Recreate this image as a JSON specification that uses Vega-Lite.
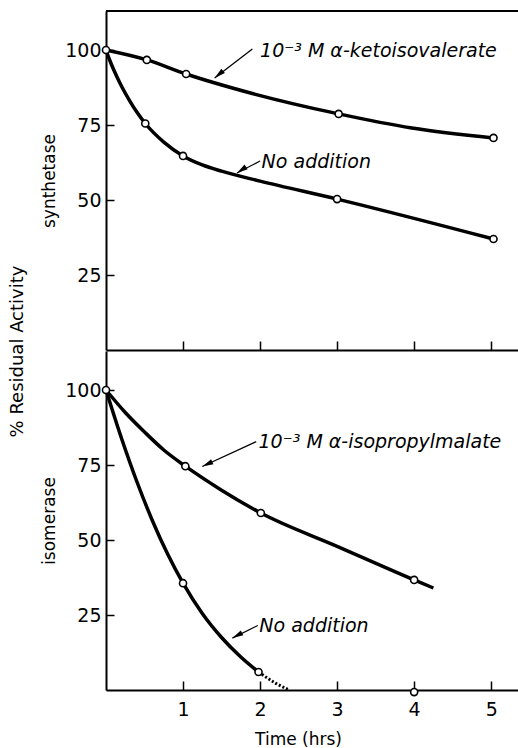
{
  "$schema": "https://vega.github.io/schema/vega-lite/v6.json",
  "padding": {"left": 8, "top": 10, "right": 0, "bottom": 0},
  "background": "white",
  "datasets": {
    "curves": [
      {"panel": "syn", "series": "keto", "t": 0, "v": 100},
      {"panel": "syn", "series": "keto", "t": 0.53, "v": 96.7},
      {"panel": "syn", "series": "keto", "t": 1.04, "v": 92},
      {"panel": "syn", "series": "keto", "t": 1.9, "v": 85.5},
      {"panel": "syn", "series": "keto", "t": 3.02, "v": 78.7},
      {"panel": "syn", "series": "keto", "t": 3.97, "v": 74},
      {"panel": "syn", "series": "keto", "t": 5.03, "v": 70.7},
      {"panel": "syn", "series": "none", "t": 0, "v": 100},
      {"panel": "syn", "series": "none", "t": 0.05, "v": 96.5},
      {"panel": "syn", "series": "none", "t": 0.1, "v": 93.4},
      {"panel": "syn", "series": "none", "t": 0.2, "v": 88.0},
      {"panel": "syn", "series": "none", "t": 0.3, "v": 83.4},
      {"panel": "syn", "series": "none", "t": 0.4, "v": 79.3},
      {"panel": "syn", "series": "none", "t": 0.51, "v": 75.5},
      {"panel": "syn", "series": "none", "t": 0.75, "v": 69.3},
      {"panel": "syn", "series": "none", "t": 1.0, "v": 64.7},
      {"panel": "syn", "series": "none", "t": 1.25, "v": 61.7},
      {"panel": "syn", "series": "none", "t": 1.5, "v": 59.6},
      {"panel": "syn", "series": "none", "t": 2.0, "v": 56.3},
      {"panel": "syn", "series": "none", "t": 3.0, "v": 50.3},
      {"panel": "syn", "series": "none", "t": 5.03, "v": 37},
      {"panel": "iso", "series": "ipm", "t": 0, "v": 100},
      {"panel": "iso", "series": "ipm", "t": 0.25, "v": 92.5},
      {"panel": "iso", "series": "ipm", "t": 0.5, "v": 86.0},
      {"panel": "iso", "series": "ipm", "t": 0.75, "v": 80.0},
      {"panel": "iso", "series": "ipm", "t": 1.03, "v": 74.6},
      {"panel": "iso", "series": "ipm", "t": 1.5, "v": 66.6},
      {"panel": "iso", "series": "ipm", "t": 2.01, "v": 59},
      {"panel": "iso", "series": "ipm", "t": 3.0, "v": 47.9},
      {"panel": "iso", "series": "ipm", "t": 4.0, "v": 36.7},
      {"panel": "iso", "series": "ipm", "t": 4.25, "v": 34.0},
      {"panel": "iso", "series": "none", "t": 0, "v": 100},
      {"panel": "iso", "series": "none", "t": 0.2, "v": 84.0},
      {"panel": "iso", "series": "none", "t": 0.4, "v": 69.5},
      {"panel": "iso", "series": "none", "t": 0.6, "v": 56.6},
      {"panel": "iso", "series": "none", "t": 0.8, "v": 45.3},
      {"panel": "iso", "series": "none", "t": 1.0, "v": 35.6},
      {"panel": "iso", "series": "none", "t": 1.25, "v": 25.5},
      {"panel": "iso", "series": "none", "t": 1.5, "v": 17.5},
      {"panel": "iso", "series": "none", "t": 1.75, "v": 11.0},
      {"panel": "iso", "series": "none", "t": 1.98, "v": 6.0}
    ],
    "dotted": [
      {"panel": "iso", "series": "none", "t": 1.98, "v": 6.0},
      {"panel": "iso", "series": "none", "t": 2.2, "v": 2.3},
      {"panel": "iso", "series": "none", "t": 2.38, "v": 0}
    ],
    "points": [
      {"panel": "syn", "series": "keto", "t": 0, "v": 100},
      {"panel": "syn", "series": "keto", "t": 0.53, "v": 96.7},
      {"panel": "syn", "series": "keto", "t": 1.04, "v": 92},
      {"panel": "syn", "series": "keto", "t": 3.02, "v": 78.7},
      {"panel": "syn", "series": "keto", "t": 5.03, "v": 70.7},
      {"panel": "syn", "series": "none", "t": 0.51, "v": 75.5},
      {"panel": "syn", "series": "none", "t": 1.0, "v": 64.7},
      {"panel": "syn", "series": "none", "t": 3.0, "v": 50.3},
      {"panel": "syn", "series": "none", "t": 5.03, "v": 37},
      {"panel": "iso", "series": "ipm", "t": 0, "v": 100},
      {"panel": "iso", "series": "ipm", "t": 1.03, "v": 74.6},
      {"panel": "iso", "series": "ipm", "t": 2.01, "v": 59},
      {"panel": "iso", "series": "ipm", "t": 4.0, "v": 36.7},
      {"panel": "iso", "series": "none", "t": 1.0, "v": 35.6},
      {"panel": "iso", "series": "none", "t": 1.98, "v": 6.0},
      {"panel": "iso", "series": "none", "t": 4.0, "v": -0.7}
    ],
    "labels": [
      {"panel": "syn", "t": 2.0, "v": 97.7, "text": "10⁻³ M α-ketoisovalerate"},
      {"panel": "syn", "t": 2.02, "v": 60.6, "text": "No addition"},
      {"panel": "iso", "t": 1.98, "v": 80.6, "text": "10⁻³ M α-isopropylmalate"},
      {"panel": "iso", "t": 1.99, "v": 19.5, "text": "No addition"}
    ],
    "arrows": [
      {"panel": "syn", "id": "a1", "t": 1.9, "v": 100.3, "t2": 1.41, "v2": 90.7},
      {"panel": "syn", "id": "a2", "t": 2.0, "v": 63.0, "t2": 1.7, "v2": 59.0},
      {"panel": "iso", "id": "b1", "t": 1.95, "v": 82.8, "t2": 1.25, "v2": 74.5},
      {"panel": "iso", "id": "b2", "t": 1.97, "v": 21.5, "t2": 1.64, "v2": 17.3}
    ]
  },
  "title": {"text": "% Residual Activity", "orient": "left", "anchor": "middle", "fontSize": 18, "fontWeight": "normal", "font": "DejaVu Sans", "color": "black", "offset": 14, "dx": 27},
  "spacing": 0,
  "vconcat": [
    {
      "width": 416,
      "height": 339,
      "layer": [
        {
          "data": {"values": [{}]},
          "mark": {"type": "rule", "strokeWidth": 2, "color": "black"},
          "encoding": {"y": {"datum": 113, "type": "quantitative", "scale": {"domain": [0, 113], "nice": false}}}
        },
        {
          "data": {"name": "curves"},
          "transform": [{"filter": "datum.panel === 'syn'"}],
          "mark": {"type": "line", "interpolate": "monotone", "strokeWidth": 3.5, "color": "black"},
          "encoding": {
            "x": {"field": "t", "type": "quantitative", "scale": {"domain": [0, 5.4], "nice": false},
                  "axis": {"values": [1, 2, 3, 4, 5], "labels": false, "tickSize": -9, "title": null}},
            "y": {"field": "v", "type": "quantitative", "scale": {"domain": [0, 113], "nice": false},
                  "axis": {"values": [25, 50, 75, 100], "format": "d", "tickSize": -8, "labelPadding": 13, "title": "synthetase", "titlePadding": 6}},
            "detail": {"field": "series"}
          }
        },
        {
          "data": {"name": "arrows"},
          "transform": [{"filter": "datum.panel === 'syn'"}],
          "mark": {"type": "rule", "strokeWidth": 1.3, "color": "black"},
          "encoding": {
            "x": {"field": "t", "type": "quantitative"},
            "y": {"field": "v", "type": "quantitative"},
            "x2": {"field": "t2"},
            "y2": {"field": "v2"}
          }
        },
        {
          "data": {"name": "arrows"},
          "transform": [{"filter": "datum.id === 'a1'"}],
          "mark": {"type": "point", "shape": "M0,0L-0.55,2.2L0.55,2.2Z", "filled": true, "color": "black", "opacity": 1, "size": 100, "angle": 231},
          "encoding": {
            "x": {"field": "t2", "type": "quantitative"},
            "y": {"field": "v2", "type": "quantitative"}
          }
        },
        {
          "data": {"name": "arrows"},
          "transform": [{"filter": "datum.id === 'a2'"}],
          "mark": {"type": "point", "shape": "M0,0L-0.55,2.2L0.55,2.2Z", "filled": true, "color": "black", "opacity": 1, "size": 100, "angle": 236},
          "encoding": {
            "x": {"field": "t2", "type": "quantitative"},
            "y": {"field": "v2", "type": "quantitative"}
          }
        },
        {
          "data": {"name": "points"},
          "transform": [{"filter": "datum.panel === 'syn'"}],
          "mark": {"type": "point", "shape": "circle", "filled": true, "fill": "white", "stroke": "black", "strokeWidth": 1.6, "size": 50, "opacity": 1},
          "encoding": {
            "x": {"field": "t", "type": "quantitative"},
            "y": {"field": "v", "type": "quantitative"}
          }
        },
        {
          "data": {"name": "labels"},
          "transform": [{"filter": "datum.panel === 'syn'"}],
          "mark": {"type": "text", "align": "left", "baseline": "alphabetic", "fontSize": 19, "fontStyle": "italic", "font": "DejaVu Sans", "color": "black"},
          "encoding": {
            "x": {"field": "t", "type": "quantitative"},
            "y": {"field": "v", "type": "quantitative"},
            "text": {"field": "text"}
          }
        }
      ]
    },
    {
      "width": 416,
      "height": 339,
      "layer": [
        {
          "data": {"name": "curves"},
          "transform": [{"filter": "datum.panel === 'iso'"}],
          "mark": {"type": "line", "interpolate": "monotone", "strokeWidth": 3.5, "color": "black"},
          "encoding": {
            "x": {"field": "t", "type": "quantitative", "scale": {"domain": [0, 5.4], "nice": false},
                  "axis": {"values": [1, 2, 3, 4, 5], "format": "d", "tickSize": -9, "labelPadding": 19, "title": "Time (hrs)", "titlePadding": 12, "titleX": 192, "titleAlign": "center"}},
            "y": {"field": "v", "type": "quantitative", "scale": {"domain": [0, 113], "nice": false},
                  "axis": {"values": [25, 50, 75, 100], "format": "d", "tickSize": -8, "labelPadding": 13, "title": "isomerase", "titlePadding": 6}},
            "detail": {"field": "series"}
          }
        },
        {
          "data": {"name": "dotted"},
          "mark": {"type": "line", "interpolate": "monotone", "strokeWidth": 3, "strokeDash": [2, 2], "color": "black"},
          "encoding": {
            "x": {"field": "t", "type": "quantitative"},
            "y": {"field": "v", "type": "quantitative"}
          }
        },
        {
          "data": {"name": "arrows"},
          "transform": [{"filter": "datum.panel === 'iso'"}],
          "mark": {"type": "rule", "strokeWidth": 1.3, "color": "black"},
          "encoding": {
            "x": {"field": "t", "type": "quantitative"},
            "y": {"field": "v", "type": "quantitative"},
            "x2": {"field": "t2"},
            "y2": {"field": "v2"}
          }
        },
        {
          "data": {"name": "arrows"},
          "transform": [{"filter": "datum.id === 'b1'"}],
          "mark": {"type": "point", "shape": "M0,0L-0.55,2.2L0.55,2.2Z", "filled": true, "color": "black", "opacity": 1, "size": 100, "angle": 245},
          "encoding": {
            "x": {"field": "t2", "type": "quantitative"},
            "y": {"field": "v2", "type": "quantitative"}
          }
        },
        {
          "data": {"name": "arrows"},
          "transform": [{"filter": "datum.id === 'b2'"}],
          "mark": {"type": "point", "shape": "M0,0L-0.55,2.2L0.55,2.2Z", "filled": true, "color": "black", "opacity": 1, "size": 100, "angle": 242},
          "encoding": {
            "x": {"field": "t2", "type": "quantitative"},
            "y": {"field": "v2", "type": "quantitative"}
          }
        },
        {
          "data": {"name": "points"},
          "transform": [{"filter": "datum.panel === 'iso'"}],
          "mark": {"type": "point", "shape": "circle", "filled": true, "fill": "white", "stroke": "black", "strokeWidth": 1.6, "size": 50, "opacity": 1},
          "encoding": {
            "x": {"field": "t", "type": "quantitative"},
            "y": {"field": "v", "type": "quantitative"}
          }
        },
        {
          "data": {"name": "labels"},
          "transform": [{"filter": "datum.panel === 'iso'"}],
          "mark": {"type": "text", "align": "left", "baseline": "alphabetic", "fontSize": 19, "fontStyle": "italic", "font": "DejaVu Sans", "color": "black"},
          "encoding": {
            "x": {"field": "t", "type": "quantitative"},
            "y": {"field": "v", "type": "quantitative"},
            "text": {"field": "text"}
          }
        }
      ]
    }
  ],
  "config": {
    "view": {"stroke": null},
    "font": "DejaVu Sans",
    "axis": {
      "grid": false,
      "domainColor": "black",
      "domainWidth": 2,
      "tickColor": "black",
      "tickWidth": 1.5,
      "labelColor": "black",
      "labelFont": "DejaVu Sans",
      "labelFontSize": 19,
      "titleColor": "black",
      "titleFont": "DejaVu Sans",
      "titleFontSize": 17,
      "titleFontWeight": "normal"
    }
  }
}
